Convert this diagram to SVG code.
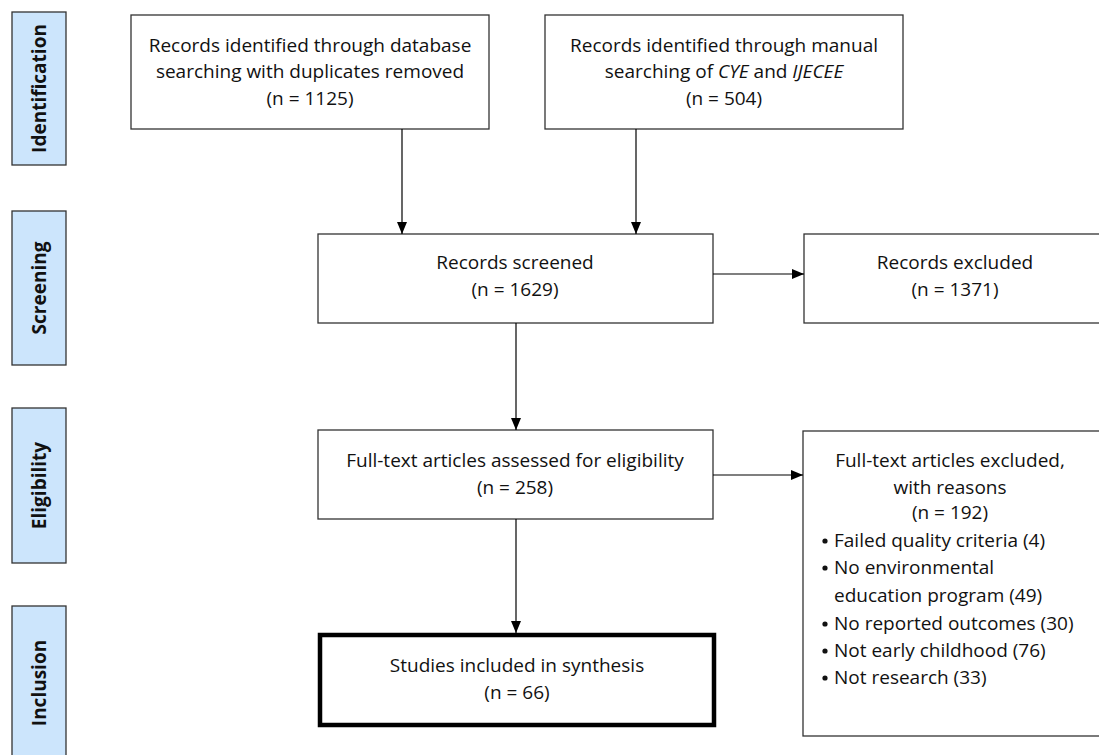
<svg xmlns="http://www.w3.org/2000/svg" width="1099" height="755" viewBox="0 0 1099 755">
<style>
text{font-family:"Open Sans","Noto Sans","Liberation Sans",sans-serif;font-size:19px;fill:#111}
.c{text-anchor:middle}
.stage rect{fill:#cce5fc;stroke:#333;stroke-width:1.3}
.stage text{font-weight:bold;font-size:19px;text-anchor:middle}
.box{fill:#fff;stroke:#333;stroke-width:1.3}
.thick{fill:#fff;stroke:#000;stroke-width:4.5}
.conn line{stroke:#000;stroke-width:1.2;marker-end:url(#ah)}
.dot{fill:#111}
</style>
<defs>
<marker id="ah" viewBox="0 0 12 12" refX="12" refY="6" markerWidth="12" markerHeight="12" markerUnits="userSpaceOnUse" orient="auto">
<path d="M0,1 L12,6 L0,11 Z" fill="#000"/>
</marker>
</defs>
<rect width="1099" height="755" fill="#fff"/>
<g id="stage-identification" class="stage"><rect x="12" y="12" width="54" height="153"/><text transform="translate(46,88.5) rotate(-90)">Identification</text></g>
<g id="stage-screening" class="stage"><rect x="12" y="211" width="54" height="154"/><text transform="translate(46,288) rotate(-90)">Screening</text></g>
<g id="stage-eligibility" class="stage"><rect x="12" y="408" width="54" height="155"/><text transform="translate(46,485.5) rotate(-90)">Eligibility</text></g>
<g id="stage-inclusion" class="stage"><rect x="12" y="606" width="54" height="160"/><text transform="translate(46,683) rotate(-90)">Inclusion</text></g>

<g id="db-records"><rect class="box" x="131" y="15" width="358" height="114"/>
<text class="c" x="310" y="52">Records identified through database</text>
<text class="c" x="310" y="78">searching with duplicates removed</text>
<text class="c" x="310" y="105">(n = 1125)</text></g>

<g id="manual-records"><rect class="box" x="545" y="15" width="358" height="114"/>
<text class="c" x="724" y="52">Records identified through manual</text>
<text class="c" x="724" y="78">searching of <tspan font-style="italic">CYE</tspan> and <tspan font-style="italic">IJECEE</tspan></text>
<text class="c" x="724" y="105">(n = 504)</text></g>

<g id="screened"><rect class="box" x="318" y="234" width="395" height="89"/>
<text class="c" x="515" y="269">Records screened</text>
<text class="c" x="515" y="296">(n = 1629)</text></g>

<g id="excluded"><rect class="box" x="804" y="234" width="302" height="89"/>
<text class="c" x="955" y="269">Records excluded</text>
<text class="c" x="955" y="296">(n = 1371)</text></g>

<g id="fulltext"><rect class="box" x="318" y="430" width="395" height="89"/>
<text class="c" x="515" y="467">Full-text articles assessed for eligibility</text>
<text class="c" x="515" y="494">(n = 258)</text></g>

<g id="fulltext-excluded"><rect class="box" x="803" y="431" width="302" height="305"/>
<text class="c" x="950" y="467">Full-text articles excluded,</text>
<text class="c" x="950" y="494">with reasons</text>
<text class="c" x="950" y="519">(n = 192)</text>
<circle class="dot" cx="825" cy="541" r="2.6"/><text x="834" y="547">Failed quality criteria (4)</text>
<circle class="dot" cx="825" cy="568" r="2.6"/><text x="834" y="574">No environmental</text>
<text x="834" y="602">education program (49)</text>
<circle class="dot" cx="825" cy="624" r="2.6"/><text x="834" y="630">No reported outcomes (30)</text>
<circle class="dot" cx="825" cy="651" r="2.6"/><text x="834" y="657">Not early childhood (76)</text>
<circle class="dot" cx="825" cy="678" r="2.6"/><text x="834" y="684">Not research (33)</text></g>

<g id="included"><rect class="thick" x="320" y="635" width="394" height="90"/>
<text class="c" x="517" y="672">Studies included in synthesis</text>
<text class="c" x="517" y="699">(n = 66)</text></g>

<g id="connectors" class="conn">
<line x1="402" y1="129" x2="402" y2="234"/>
<line x1="636" y1="129" x2="636" y2="234"/>
<line x1="713" y1="274" x2="804" y2="274"/>
<line x1="516" y1="323" x2="516" y2="430"/>
<line x1="713" y1="475" x2="803" y2="475"/>
<line x1="516" y1="519" x2="516" y2="633"/>
</g>
</svg>
